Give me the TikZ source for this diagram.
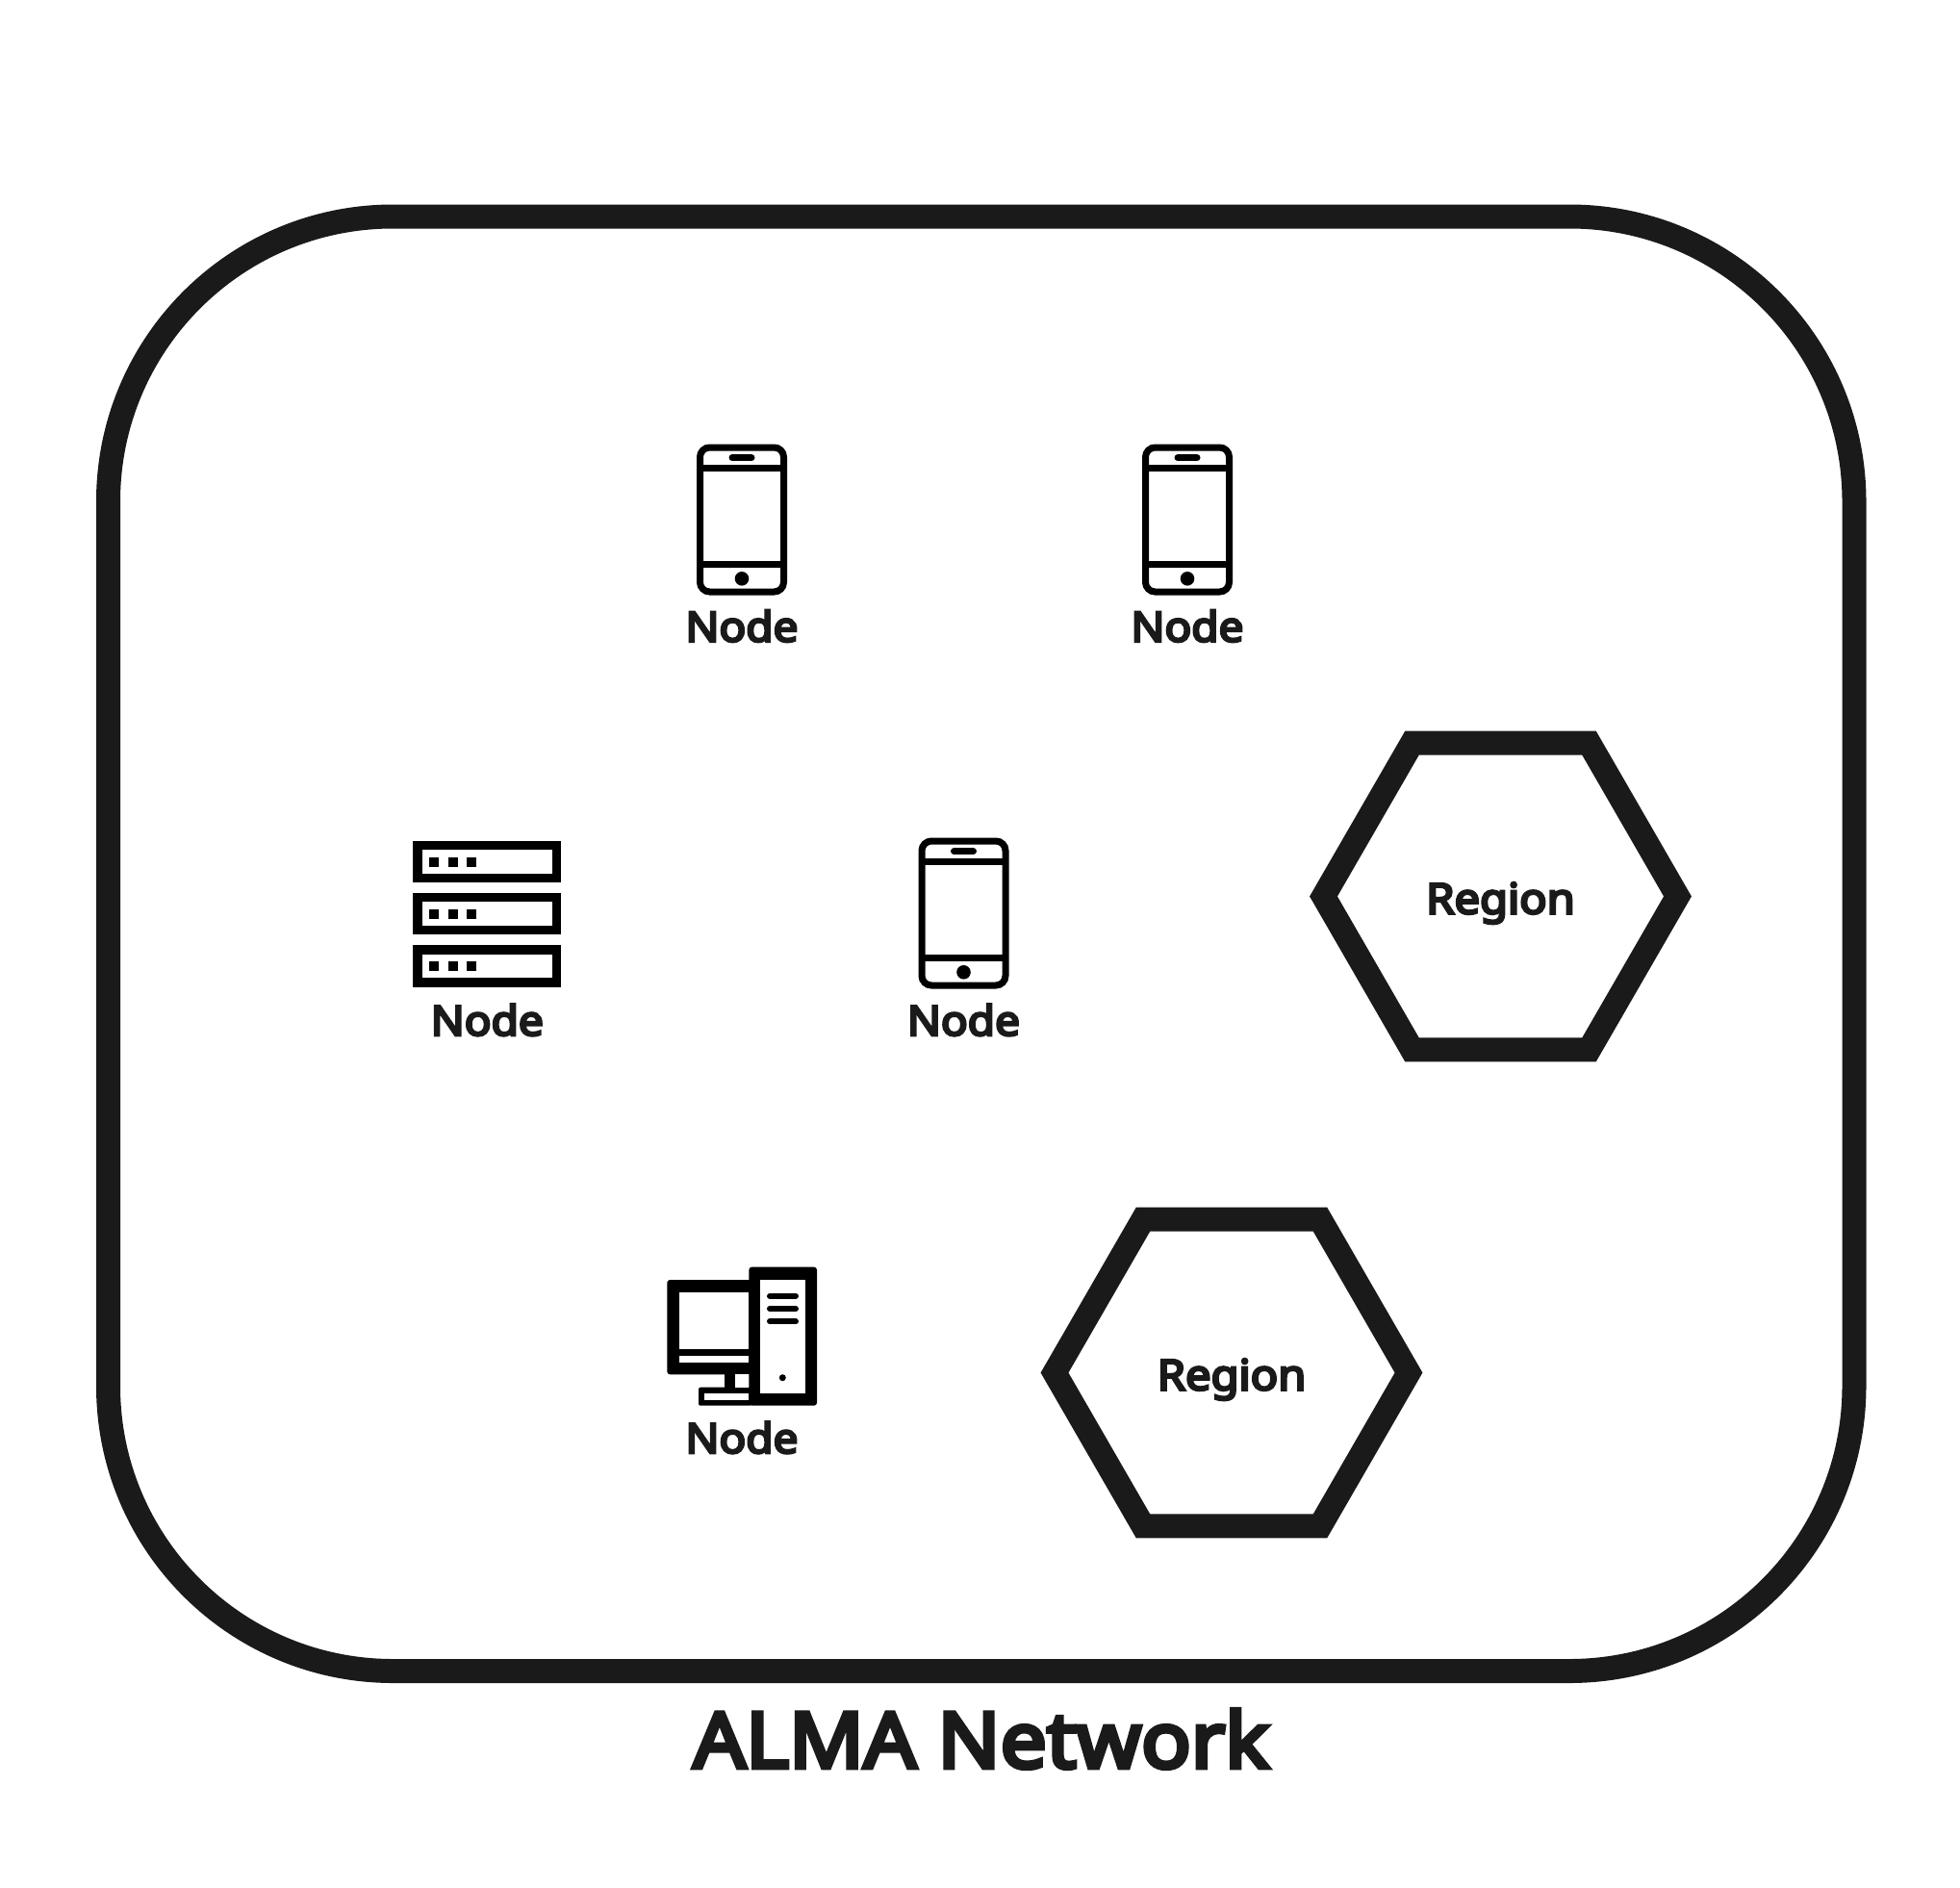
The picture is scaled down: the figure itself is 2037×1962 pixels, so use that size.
\documentclass[tikz,border=0pt]{standalone}
\usepackage{fontspec}
\setmainfont{Noto Sans}[BoldFont={Noto Sans},BoldFeatures={FakeBold=6,FakeStretch=1.07}]
\usetikzlibrary{shapes.geometric}
\definecolor{inkgray}{HTML}{1A1A1A}
\tikzset{
  networkbox/.style={draw=inkgray,line width=25pt,rectangle,rounded corners=296pt,minimum width=1814.5pt,minimum height=1511.5pt,outer sep=0pt},
  regionhex/.style={draw=inkgray,line width=25pt,regular polygon,regular polygon sides=6,minimum size=368pt,inner sep=0pt,outer sep=0pt,text=inkgray,font=\fontsize{44}{44}\selectfont\bfseries,text height=36pt,text depth=0pt},
  nodelabel/.style={anchor=base,text=inkgray,inner sep=0pt,font=\fontsize{43}{43}\selectfont\bfseries},
  networklabel/.style={anchor=base,text=inkgray,inner sep=0pt,font=\fontsize{80}{80}\selectfont\bfseries},
  phoneicon/.pic={
    \draw[line width=7pt,rounded corners=10pt] (-43.5,-75) rectangle (43.5,75);
    \draw[line width=7pt] (-43.5,-54) -- (43.5,-54) (-43.5,46.7) -- (43.5,46.7);
    \draw[line width=7pt,line cap=round] (-10,-64.3) -- (10,-64.3);
    \fill (0,61.3) circle (7.3pt);
  },
  servericon/.pic={
    \foreach \rowy in {-54,0,54.5}{
      \draw[line width=9.5pt] (-72.3,\rowy-17.2) rectangle (72.3,\rowy+17.2);
      \foreach \dotx in {-55.5,-35.7,-16}
        \fill (\dotx-5,\rowy-5) rectangle (\dotx+5,\rowy+5);
    }
  },
  desktopicon/.pic={
    \fill[rounded corners=3pt] (7.3,-71.3) rectangle (78,72.7);
    \fill[rounded corners=3pt] (-77.7,-58) rectangle (10,40.3);
    \fill (-18.3,40) rectangle (-7,54);
    \fill[rounded corners=2pt] (-45,53.7) rectangle (10,72.7);
    \fill[white] (19,-58) rectangle (65.7,60.3);
    \fill[white] (-65.3,-44.7) rectangle (7.3,14.3);
    \fill[white] (-65.3,21) rectangle (7.3,28);
    \fill[white] (-39.3,60.3) rectangle (7.3,67);
    \fill[white] (-7,40.3) rectangle (7.3,53.7);
    \foreach \bary in {-41.3,-28,-14.7}
      \draw[line width=6pt,line cap=round] (29,\bary) -- (56,\bary);
    \fill (42.3,43.7) circle (3.5pt);
  }
}
\begin{document}
\begin{tikzpicture}[x=1pt,y=-1pt]
  \useasboundingbox (0,0) rectangle (2037,1962);
  \node[networkbox] (network) at (1019.75,980.75) {};
  \node[regionhex] (region1) at (1559.5,931.5) {Region};
  \node[regionhex] (region2) at (1280,1426.5) {Region};
  % icons and their labels
  \pic at (771,540) {phoneicon};
  \node[nodelabel] (phone1) at (771,666.7) {Node};
  \pic at (1234,540) {phoneicon};
  \node[nodelabel] (phone2) at (1234,666.7) {Node};
  \pic at (1001.5,949) {phoneicon};
  \node[nodelabel] (phone3) at (1001.5,1076) {Node};
  \pic at (506.3,949.5) {servericon};
  \node[nodelabel] (server) at (506.3,1076) {Node};
  \pic at (771,1388) {desktopicon};
  \node[nodelabel] (desktop) at (771,1510) {Node};
  \node[networklabel] (title) at (1019.75,1837) {ALMA Network};
\end{tikzpicture}
\end{document}
